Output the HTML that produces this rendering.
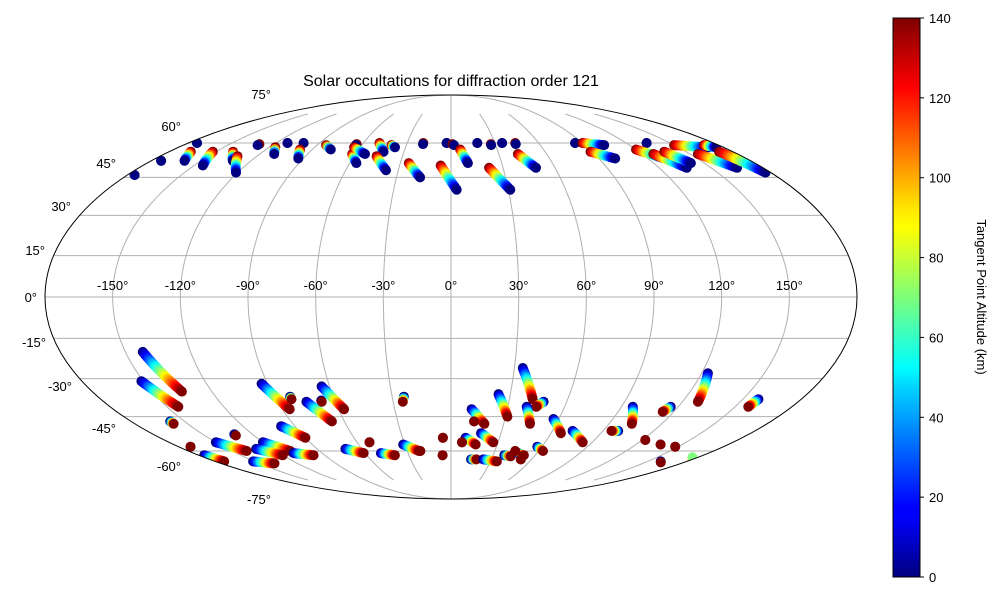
<!DOCTYPE html>
<html><head><meta charset="utf-8"><style>
body{margin:0;background:#fff;}
svg text{font-family:"Liberation Sans",sans-serif;}
</style></head><body>
<svg id="chart" width="1000" height="600" xmlns="http://www.w3.org/2000/svg">
<defs>
<linearGradient id="jetgrad" x1="0" y1="1" x2="0" y2="0">
<stop offset="0" stop-color="#00007f"/><stop offset="0.11" stop-color="#0000ff"/><stop offset="0.125" stop-color="#0000ff"/>
<stop offset="0.34" stop-color="#00d4ff"/><stop offset="0.375" stop-color="#00ffff"/><stop offset="0.5" stop-color="#7dff7a"/>
<stop offset="0.625" stop-color="#ffff00"/><stop offset="0.66" stop-color="#ffe600"/><stop offset="0.875" stop-color="#ff0000"/><stop offset="1" stop-color="#7f0000"/>
</linearGradient>
<clipPath id="ellclip"><ellipse cx="451" cy="297" rx="406" ry="202"/></clipPath>
</defs>
<text x="451" y="86" text-anchor="middle" font-size="16">Solar occultations for diffraction order 121</text>
<g id="grid"></g>
<g id="marks" clip-path="url(#ellclip)"></g>
<ellipse cx="451" cy="297" rx="406" ry="202" fill="none" stroke="#000" stroke-width="1"/>
<g id="labels" font-size="13"></g>
<rect x="893" y="18" width="27" height="559" fill="url(#jetgrad)" stroke="#000" stroke-width="1"/>
<g id="cbticks" font-size="13"></g>
<text transform="translate(977,297) rotate(90)" text-anchor="middle" font-size="13">Tangent Point Altitude (km)</text>
</svg>
<script>
// tracks: [lon1, lat1, alt1, lon2, lat2, alt2]
const tracksNorth = [
[-176,46,0,-176,46,0],[-174,52,0,-174,52,0],[-174,60,0,-174,60,0],
[-166,56,140,-160,52,0],[-152,56,140,-145,50,0],[-139,56,140,-131,52,0],[-132,54,140,-121,47,0],
[-130,59.5,140,-130,59,0],[-116,58,140,-111,55,0],[-112,60,0,-112,60,0],[-101,60,140,-101,60,0],
[-98,57,140,-93,53,0],[-84,59,140,-78,57,0],[-62,55,140,-56,51,0],[-64,59.5,140,-64,59,0],
[-64,58,140,-54,55,0],[-49,60,140,-43,56,0],[-46,54,140,-37,48,0],[-40,59,140,-37,58,0],
[-25,51,140,-17,45,0],[-19,60,140,-19,59.5,0],[-3,60,0,-3,60,0],[1,59.5,140,2,59,0],
[6,57,140,10,51,0],[-6,50,140,3,40,0],[18,60,0,18,60,0],[27,59.5,140,27,59,0],[35,60,0,35,60,0],
[44,60,140,44,59.5,0],[22,49,140,31,40,0],[42,55,140,49,49,0],[85,60,0,85,60,0],
[90,60,140,103,59,0],[89,56,140,100,53,0],[134,60,0,134,60,0],[120,57,140,130,53,0],
[127,55,140,136,49,0],[136,56,140,142,51,0],[150,59,140,170,58,0],[155,55,140,165,49,0],
[170,59,140,175,58,0],[171,56,140,177,47,0]
];
const tracksSouth = [
[-142,-20,0,-135,-35,140],[-151,-31,0,-144,-41,140],[-158,-47,0,-158,-48,140],[-172,-58,140,-172,-58,140],
[-131,-52.5,0,-131,-53,140],[-150,-56,0,-140,-60,140],[-176,-62,0,-173,-65,140],[-93,-32,0,-86,-42,140],
[-82,-37,0,-82,-38,140],[-64,-33,0,-57,-42,140],[-75,-39,0,-67,-47,140],[-67,-38.5,0,-67,-39,140],
[-98,-49,0,-90,-54,140],[-120,-56,0,-110,-60,140],[-131,-59,0,-120,-62,140],[-110,-61,0,-98,-62,140],
[-151,-65,0,-138,-66,140],[-71,-59,0,-61,-61,140],[-52,-56,140,-52,-56,140],[-49,-61,0,-40,-62,140],
[-31,-57,0,-22,-60,140],[-24,-37,0,-25,-39,140],[-5,-54,140,-5,-54,140],[-6,-62,140,-6,-62,140],
[-21,-60,140,-21,-60,140],[11,-42,0,19,-48,140],[13,-47,140,13,-47,140],[18,-52,0,27,-56,140],
[9,-54,0,16,-57,140],[7,-56,140,7,-56,140],[24,-36,0,31,-45,140],[34,-26,0,42,-38,140],
[48,-39,0,45,-41,140],[40,-41,0,45,-48,140],[57,-46,0,66,-52,140],[72,-51,0,84,-56,140],
[99,-51,0,95,-51,140],[96,-41,0,103,-48,140],[122,-55,140,122,-55,140],[136,-57,140,136,-57,140],
[148,-58,140,148,-58,140],[116,-41,0,114,-43,140],[123,-28,0,128,-39,140],[158,-38,0,157,-41,140],
[160,-65,0,162,-65.5,140],[180,-64,100,176,-63,70],[15,-64,0,19,-64,140],[24,-64,0,35,-65,140],
[38,-62,0,43,-62.5,140],[47,-61,0,52,-62,140],[57,-58,0,63,-60,140],[44,-60,140,44,-60,140],
[52,-64,140,52,-64,140]
];
const lonTicks = [-150,-120,-90,-60,-30,0,30,60,90,120,150];
const latTicks = [-75,-60,-45,-30,-15,0,15,30,45,60,75];
const gridLats = [-60,-45,-30,-15,0,15,30,45,60];
const cbTicks = [0,20,40,60,80,100,120,140];
const altMax = 140;

const CX=451, CY=297, RX=406, RY=202;
const NS='http://www.w3.org/2000/svg';
// label anchor layout (right edge x, baseline y) keyed by latitude
const latLabelPos = {"75":[271,99],"60":[181,131],"45":[116,168],"30":[71,211],"15":[45,255],"0":[37,302],"-15":[46,347],"-30":[72,391],"-45":[116,433],"-60":[181,471],"-75":[271,504]};
function theta(latDeg){
  const phi=latDeg*Math.PI/180;
  if(Math.abs(latDeg)>=90) return Math.sign(latDeg)*Math.PI/2;
  let t=phi;
  for(let i=0;i<50;i++){const f=2*t+Math.sin(2*t)-Math.PI*Math.sin(phi);const d=2+2*Math.cos(2*t);if(Math.abs(d)<1e-9)break;t-=f/d;}
  return t;
}
function proj(lon,lat){const t=theta(lat);return [CX+RX*(lon/180)*Math.cos(t), CY-RY*Math.sin(t)];}
function jet(v){
  const x=Math.max(0,Math.min(1,v));
  const r=Math.max(0,Math.min(1,1.5-Math.abs(4*x-3)));
  const g=Math.max(0,Math.min(1,1.5-Math.abs(4*x-2)));
  const b=Math.max(0,Math.min(1,1.5-Math.abs(4*x-1)));
  return `rgb(${Math.round(r*255)},${Math.round(g*255)},${Math.round(b*255)})`;
}
const grid=document.getElementById('grid');
gridLats.forEach(lat=>{
  const a=proj(-180,lat), b=proj(180,lat);
  const l=document.createElementNS(NS,'line');
  l.setAttribute('x1',a[0]);l.setAttribute('x2',b[0]);l.setAttribute('y1',a[1]);l.setAttribute('y2',b[1]);
  l.setAttribute('stroke','#b0b0b0');l.setAttribute('stroke-width','1');
  
  
  grid.appendChild(l);
});
lonTicks.forEach(lon=>{
  let d='';
  const cap=(lon%90===0)?90:75;
  for(let lat=-cap;lat<=cap;lat+=1){const p=proj(lon,lat);d+=(d?'L':'M')+p[0].toFixed(1)+' '+p[1].toFixed(1);}
  const pa=document.createElementNS(NS,'path');
  pa.setAttribute('d',d);pa.setAttribute('fill','none');pa.setAttribute('stroke','#b0b0b0');pa.setAttribute('stroke-width','1');
  
  
  grid.appendChild(pa);
});
const labels=document.getElementById('labels');
lonTicks.forEach(lon=>{
  const p=proj(lon,0);
  const t=document.createElementNS(NS,'text');
  t.setAttribute('x',p[0]);t.setAttribute('y',290);t.setAttribute('text-anchor','middle');
  t.textContent=lon+'°';
  
  
  labels.appendChild(t);
});
latTicks.forEach(lat=>{
  const p=latLabelPos[String(lat)];
  const t=document.createElementNS(NS,'text');
  t.setAttribute('x',p[0]);t.setAttribute('y',p[1]);t.setAttribute('text-anchor','end');
  t.textContent=lat+'°';
  
  
  labels.appendChild(t);
});
const marks=document.getElementById('marks');
function drawTrack(tr){
  const [lo1,la1,a1,lo2,la2,a2]=tr;
  const p1=proj(lo1,la1), p2=proj(lo2,la2);
  const len=Math.hypot(p2[0]-p1[0],p2[1]-p1[1]);
  const n=Math.max(1,Math.round(len/1.5));
  const g=document.createElementNS(NS,'g');
  
  
  for(let i=0;i<=n;i++){
    const f=i/n;
    const p=proj(lo1+(lo2-lo1)*f, la1+(la2-la1)*f);
    const c=document.createElementNS(NS,'circle');
    c.setAttribute('cx',p[0].toFixed(1));c.setAttribute('cy',p[1].toFixed(1));c.setAttribute('r',5);
    c.setAttribute('fill',jet((a1+(a2-a1)*f)/altMax));
    g.appendChild(c);
  }
  marks.appendChild(g);
}
tracksNorth.forEach(drawTrack);
tracksSouth.forEach(drawTrack);
const cb=document.getElementById('cbticks');
cbTicks.forEach(v=>{
  const y=577-559*v/altMax;
  const l=document.createElementNS(NS,'line');
  l.setAttribute('x1',920);l.setAttribute('x2',924);l.setAttribute('y1',y);l.setAttribute('y2',y);l.setAttribute('stroke','#000');
  
  
  cb.appendChild(l);
  const t=document.createElementNS(NS,'text');
  t.setAttribute('x',929);t.setAttribute('y',y+5);t.textContent=v;
  
  
  cb.appendChild(t);
});
</script>
</body></html>
